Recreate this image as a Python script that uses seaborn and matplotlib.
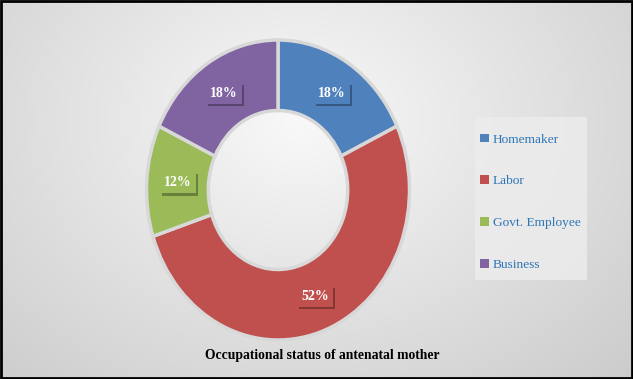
import numpy as np
import matplotlib
matplotlib.use("Agg")
import matplotlib.pyplot as plt
import matplotlib.patheffects as pe
from matplotlib.patches import Patch, Rectangle
import seaborn as sns

categories = ["Homemaker", "Labor", "Govt. Employee", "Business"]
values = [18, 52, 12, 18]
labels = ["18%", "52%", "12%", "18%"]
title = "Occupational status of antenatal mother"

sns.set_theme(style="white")
plt.rcParams['font.family'] = ['Liberation Serif', 'DejaVu Serif']
colors = sns.color_palette(["#4F81BD", "#C0504D", "#9BBB59", "#8064A2"])

W, H = 633, 379
fig = plt.figure(figsize=(W / 100, H / 100), dpi=100)

# background gradient
bg = fig.add_axes([0, 0, 1, 1])
yy, xx = np.mgrid[0:H, 0:W]
r = np.sqrt(((xx - 300) / 420.0) ** 2 + ((yy - 120) / 330.0) ** 2)
g = 0.975 - 0.16 * np.clip(r, 0, 1.2)
bg.imshow(np.dstack([g, g, g]), extent=[0, W, H, 0], aspect='auto')
bg.add_patch(Rectangle((1, 1), W - 2, H - 2, fill=False, edgecolor='black', lw=2))
# legend panel
bg.add_patch(Rectangle((475, 117), 112, 163, facecolor='#ececec', edgecolor='none', alpha=0.85))
bg.set_xlim(0, W)
bg.set_ylim(H, 0)
bg.axis('off')

# donut axes (ellipse: center 278,190; rx 131.5, ry 150)
cx, cy, rx, ry = 278, 190, 131.5, 150
ax = fig.add_axes([(cx - rx) / W, (H - cy - ry) / H, 2 * rx / W, 2 * ry / H])
ax.patch.set_alpha(0)
wedges, _ = ax.pie(values, colors=colors, startangle=90, counterclock=False,
                   radius=1.0,
                   wedgeprops=dict(width=0.47, edgecolor='#d8d8d8', linewidth=2.5))
ax.set_aspect('auto')
ax.set_xlim(-1, 1)
ax.set_ylim(-1, 1)

# data labels
ang = 90.0
for w, v, lab, c in zip(wedges, values, labels, colors):
    mid = np.deg2rad(ang - v * 3.6 / 2)
    ang -= v * 3.6
    rr = 0.765
    x, y = rr * np.cos(mid), rr * np.sin(mid)
    t = ax.text(x, y, lab, ha='center', va='center', color='white',
                fontsize=10, fontweight='bold',
                bbox=dict(boxstyle='square,pad=0.3', facecolor=c, edgecolor='none'))
    t.get_bbox_patch().set_path_effects([pe.SimplePatchShadow(offset=(1.5, -1.5), alpha=0.45), pe.Normal()])

# legend
handles = [Patch(facecolor=c, edgecolor='none') for c in colors]
leg = fig.legend(handles, categories, loc='upper left',
                 bbox_to_anchor=(480 / W, 1 - 133.5 / H),
                 frameon=False, fontsize=9.6, labelspacing=2.22,
                 handlelength=0.65, handleheight=0.65, handletextpad=0.3,
                 borderpad=0, borderaxespad=0)
for txt in leg.get_texts():
    txt.set_color('#2E75B6')

fig.text(322 / W, 1 - 355 / H, title, ha='center', va='center',
         fontsize=9.8, fontweight='bold', color='black')

fig.savefig("out.png", dpi=100)
